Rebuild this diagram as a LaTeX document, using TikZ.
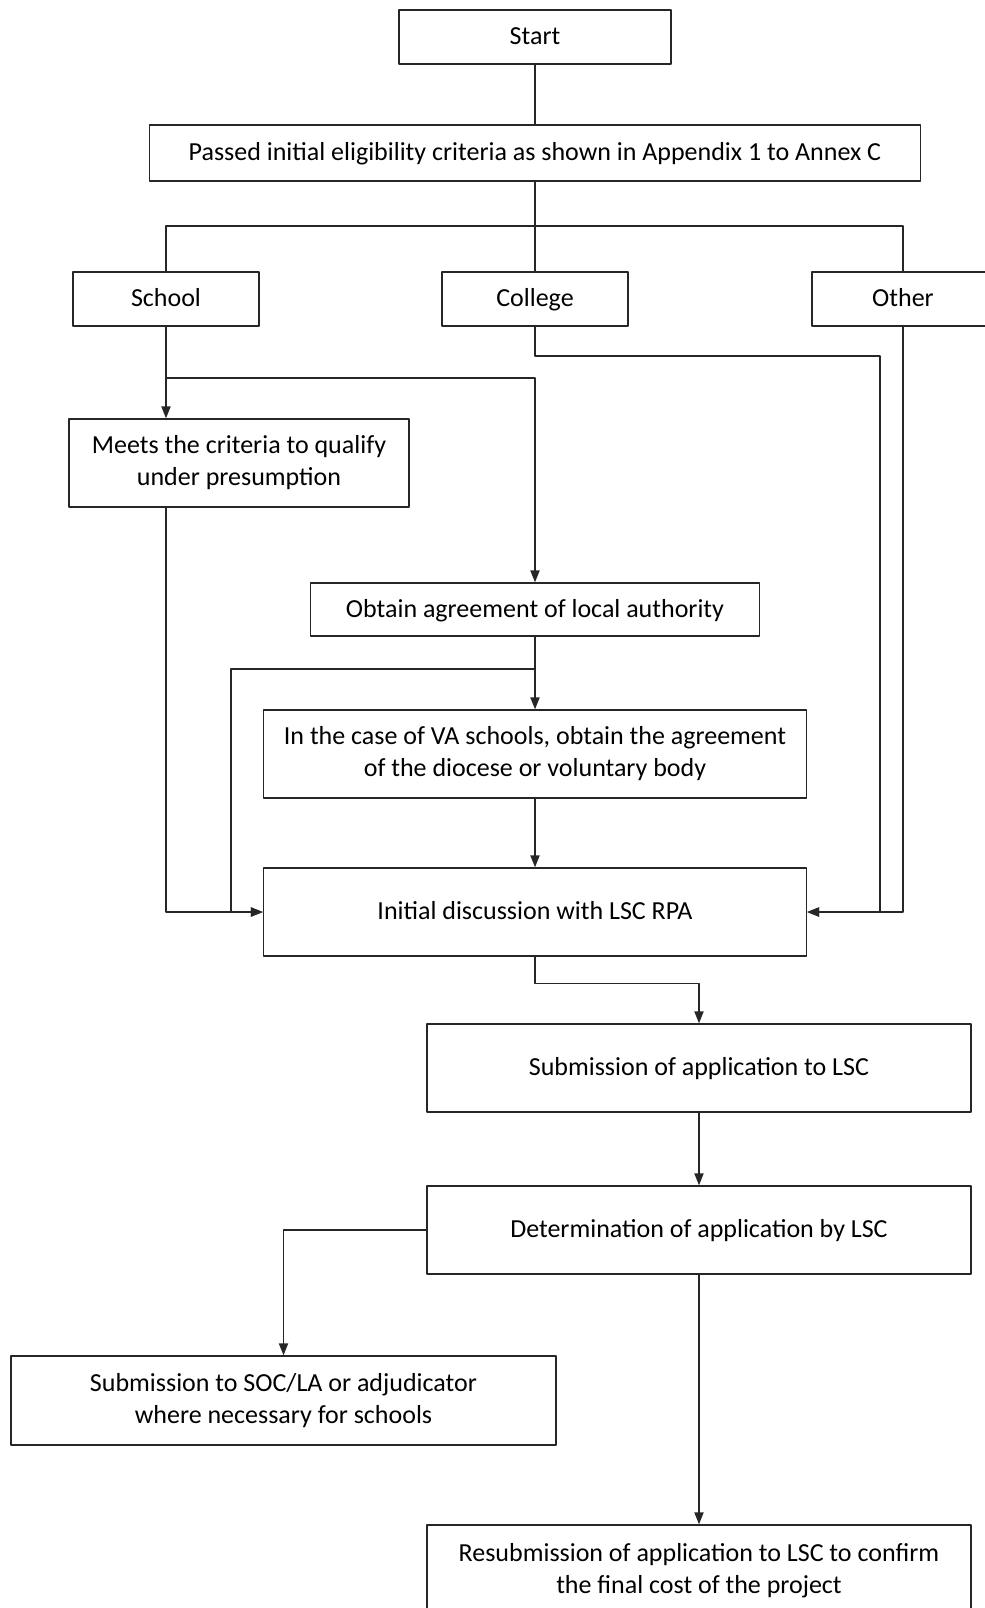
\documentclass[tikz,border=0pt]{standalone}
\usepackage{fontspec}
\setmainfont{Carlito}
\usetikzlibrary{arrows.meta}
\tikzset{
  box/.style={draw,align=center,inner sep=2pt,font=\fontsize{13}{16}\selectfont},
  oneline/.style={text height=10.2pt,text depth=2.3pt},
  link/.style={line width=0.7pt,draw=black!85},
}
\begin{document}
\begin{tikzpicture}[x=0.5pt,y=-0.5pt,line join=round,>={Triangle[length=6pt,width=4.6pt]}]
\useasboundingbox (0,0) rectangle (985,1608);
\tikzset{every node/.append style={line width=0.7pt,draw=black!85}}
% boxes
\node[box,oneline,minimum width=136pt,minimum height=27pt] (start) at (535,37) {Start};
\node[box,oneline,minimum width=385.5pt,minimum height=28pt] (passed) at (535,153) {Passed initial eligibility criteria as shown in Appendix 1 to Annex C};
\node[box,oneline,minimum width=93pt,minimum height=27pt] (school) at (166,299) {School};
\node[box,oneline,minimum width=93pt,minimum height=27pt] (college) at (535,299) {College};
\node[box,oneline,minimum width=91pt,minimum height=27pt] (other) at (903,299) {Other};
\node[box,minimum width=170pt,minimum height=44pt] (meets) at (239,463) {Meets the criteria to qualify\\under presumption};
\node[box,oneline,minimum width=224.5pt,minimum height=26.5pt] (obtain) at (535,609.5) {Obtain agreement of local authority};
\node[box,minimum width=271.5pt,minimum height=44pt] (va) at (535,754) {In the case of VA schools, obtain the agreement\\of the diocese or voluntary body};
\node[box,oneline,minimum width=271.5pt,minimum height=44pt] (initial) at (535,912) {Initial discussion with LSC RPA};
\node[box,oneline,minimum width=272pt,minimum height=44pt] (sub) at (699,1068) {Submission of application to LSC};
\node[box,oneline,minimum width=272pt,minimum height=44pt] (det) at (699,1230) {Determination of application by LSC};
\node[box,minimum width=272.5pt,minimum height=44.5pt] (soc) at (283.5,1400.5) {Submission to SOC/LA or adjudicator\\where necessary for schools};
\node[box,minimum width=272pt,minimum height=46pt] (resub) at (699,1571) {Resubmission of application to LSC to confirm\\the final cost of the project};
% junctions
\coordinate (split) at (535,226);
\coordinate (sbr) at (166,378);
\coordinate (cbr) at (880,356);
\coordinate (obr) at (535,669);
\coordinate (vbr) at (231,669);
% connectors
\draw[link] (start.south) -- (passed.north);
\draw[link] (passed.south) -- (split);
\draw[link] (school.north) |- (split) -| (other.north);
\draw[link] (split) -- (college.north);
\draw[link,->] (school.south) -- (school.south |- meets.north);
\draw[link,->] (sbr) -| (obtain.north);
\draw[link,->] (college.south) |- (cbr) |- (initial.east);
\draw[link,->] (other.south) |- (initial.east);
\draw[link,->] (school.south |- meets.south) |- (initial.west);
\draw[link,->] (obtain.south) -- (va.north);
\draw[link,->] (obr) -- (vbr) |- (initial.west);
\draw[link,->] (va.south) -- (initial.north);
\draw[link,->] (initial.south) -- ++(0,27) -| (sub.north);
\draw[link,->] (sub.south) -- (det.north);
\draw[link,->] (det.west) -| (soc.north);
\draw[link,->] (det.south) -- (resub.north);
\end{tikzpicture}
\end{document}
